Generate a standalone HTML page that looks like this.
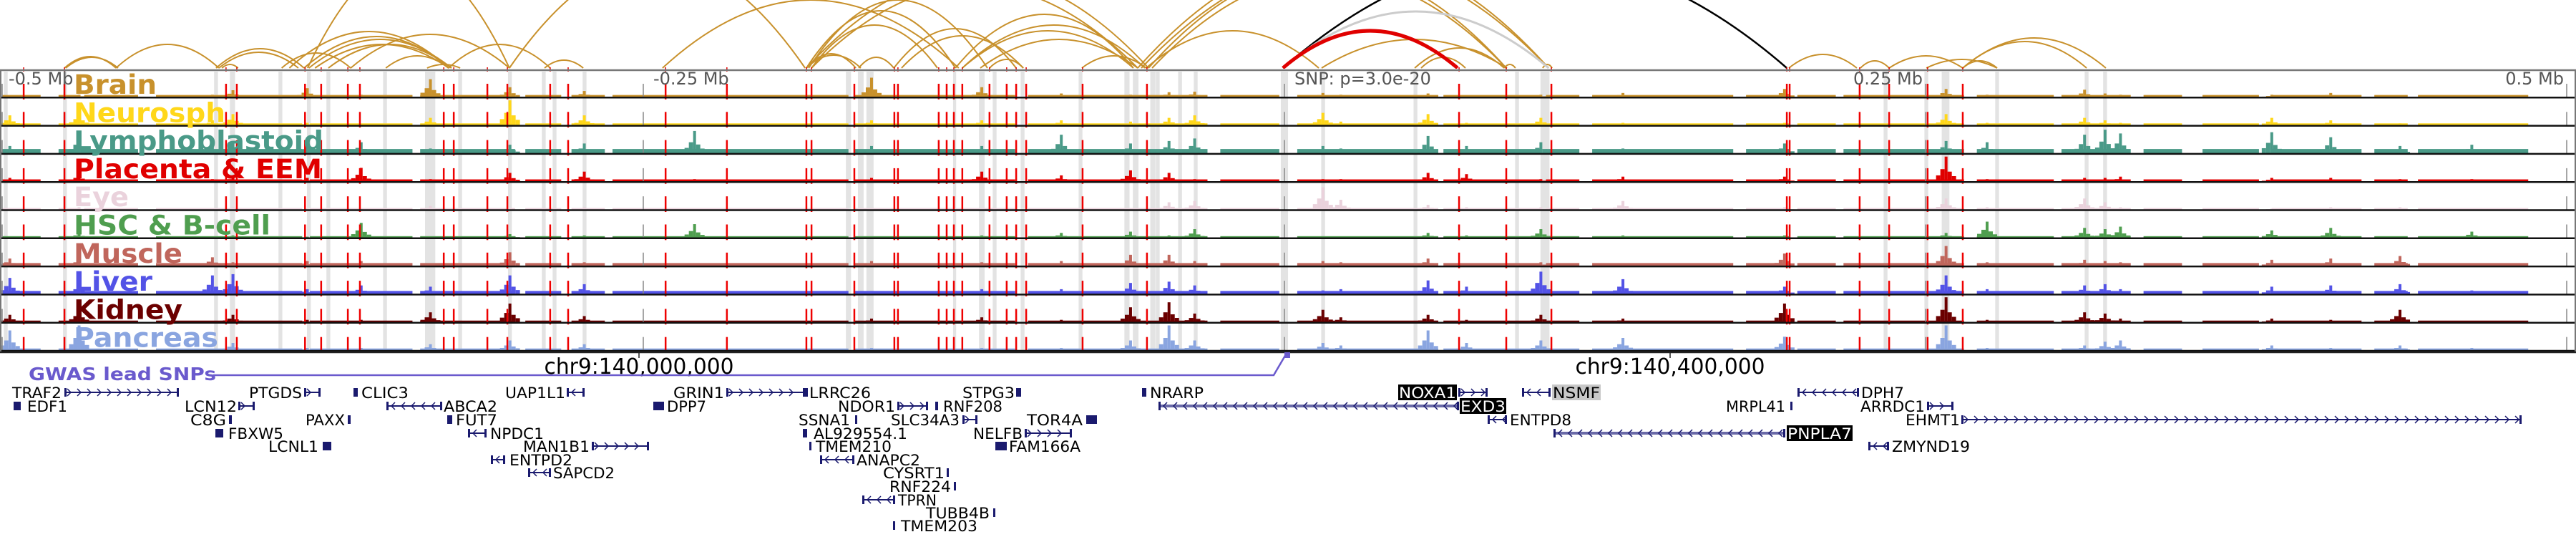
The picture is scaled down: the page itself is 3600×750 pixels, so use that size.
<!DOCTYPE html>
<html><head><meta charset="utf-8"><title>Genome browser</title>
<style>
html,body{margin:0;padding:0;background:#fff;}
svg{display:block;}
text{font-family:"DejaVu Sans","Liberation Sans",sans-serif;}
</style></head>
<body>
<svg id="chart" xmlns="http://www.w3.org/2000/svg" width="3600" height="750" viewBox="0 0 3600 750">
<defs><clipPath id="arcclip"><rect x="0" y="0" width="3600" height="96"/></clipPath></defs>
</svg>
<script>
// ---------- data ----------
const trackNames = ['Brain','Neurosph','Lymphoblastoid','Placenta & EEM','Eye','HSC & B-cell','Muscle','Liver','Kidney','Pancreas'];
const peakKb   = [-497,-470,-418,-410,-381,-360,-333,-302,-273,-230,-161,-118,-87,-60,-45,-35,15,56,22,71,100,132,195,258,274,312,320,326,385,408,435,463];
const brainH   = [.05,.1,.1,.28,.36,.1,.72,.4,.25,.05,.78,.4,.15,.1,.2,.22,.17,.15,.1,.08,.1,.17,.33,.33,.1,.3,.15,.1,.1,.17,.08,.05];
const neuroH   = [.4,.5,.2,.45,.1,.05,.3,1.0,.4,.05,.2,.2,.2,.15,.3,.4,.5,.45,.15,.1,.3,.1,.1,.45,.1,.3,.2,.1,.3,.2,.08,.05];
const lymphH   = [.3,.7,.3,.5,.35,.45,.2,.35,.4,.9,.3,.3,.75,.4,.5,.6,.3,.7,.2,.3,.45,.2,.4,.5,.45,.75,.95,.8,.85,.65,.3,.35];
const placentaH= [.15,.3,.1,.2,.15,.55,.1,.35,.4,.1,.15,.4,.25,.45,.35,.1,.1,.35,.1,.3,.1,.2,.2,1.0,.1,.15,.15,.2,.15,.15,.1,.1];
const eyeH     = [.05,.1,.05,.1,.05,.05,.15,.05,.1,.05,.05,.05,.05,.05,.3,.35,.9,.2,.4,.1,.1,.35,.1,.45,.1,.45,.3,.1,.05,.1,.1,.05];
const hscH     = [.05,.2,.05,.1,.05,.6,.05,.15,.1,.55,.05,.1,.2,.25,.1,.35,.05,.2,.05,.1,.35,.1,.1,.2,.65,.4,.35,.45,.3,.4,.05,.25];
const muscleH  = [.3,.3,.35,.15,.2,.2,.1,.55,.15,.1,.2,.15,.2,.45,.45,.2,.2,.3,.15,.1,.15,.1,.5,.8,.15,.25,.2,.15,.25,.3,.4,.1];
const liverH   = [.65,.4,.75,.8,.2,.35,.3,.75,.4,.1,.1,.2,.2,.45,.5,.35,.15,.55,.2,.3,.9,.6,.3,.75,.2,.35,.4,.2,.3,.35,.4,.15];
const kidneyH  = [.3,.5,.05,.3,.1,.1,.4,.75,.25,.05,.15,.2,.1,.6,.8,.35,.5,.3,.2,.1,.3,.15,.75,1.0,.1,.4,.35,.15,.15,.1,.5,.05];
const pancreasH= [.8,1.0,.05,.3,.1,.1,.25,.4,.25,.05,.1,.1,.1,.4,1.0,.4,.3,.8,.2,.3,.4,.5,.55,1.0,.1,.2,.35,.4,.2,.1,.2,.1];
const bgLevel  = [.09,.08,.18,.09,.07,.07,.12,.13,.07,.08];
const bgStart  = [-500,-478,-468,-440,-380,-337,-296,-278,-262,-168,-100,-25,5,62,102,120,180,200,218,270,303,335,358,385,425,442];
const bgEnd    = [-485,-470,-447,-383,-340,-300,-282,-265,-170,-105,-30,-2,60,100,115,175,197,215,265,300,330,350,380,420,438,485];
const snpKb    = [-491.6,-475.7,-412.7,-408.5,-381.9,-375.6,-365.2,-360.5,-327.8,-323.9,-310.8,-303,-286.3,-279.3,-241.3,-217.4,-186.4,-184.4,-167.7,-152.1,-150.7,-134.8,-131.7,-128.9,-125.6,-115,-108.3,-104.6,-100.7,-78.7,-53.6,68.1,86.5,104.1,195.9,197,224.3,235.8,250.8,264.5];
const bandKb   = [-498.6,-475.5,-416.6,-410.2,-391.5,-380.4,-372.8,-350.7,-333.1,-321.4,-302,-288.8,-284.6,-272.9,-170,-165.2,-161.6,-128.6,-118,-113,-102.1,-79.5,-61.4,-58,-51.3,-49.4,-40.7,-34.6,0,15.1,51.1,90.7,101.6,234.4,250.3,257.8,277.9,312.8,320];
const bandW    = [1.5,1.5,1.5,2,1.5,1.5,1.5,1.5,4,1.5,1.5,1.5,1.5,1.5,2,2.2,2.8,1.2,2.2,1.5,1.5,1.5,2,2.2,2,1.5,1.5,1.5,2.8,1.5,1.5,1.5,3.5,1.5,1.5,3,1.5,1.5,1.5];
const axisTickKb   = [-500,-250,0,250,500];
const axisTickText = ['-0.5 Mb','-0.25 Mb','SNP: p=3.0e-20','0.25 Mb','0.5 Mb'];
const arcStart = [-475.7,-475.2,-455.6,-416.6,-415.5,-414.3,-391,-388,-382.3,-380.4,-378,-372.8,-364.1,-350.4,-334.3,-325.9,-380.9,-302.2,-288.5,-242.5,-186.4,-186.4,-186.4,-185.5,-184.4,-186.4,-184.4,-166,-152.3,-149.3,-128.3,-125.6,-125.6,-118.6,-115,-79,-57.2,-55.8,-53,-51.6,-53.9,14.5,50.8,53.3,85.7,100.7,196.7,224.6,235.8,250.3,264.5,264.5,264.5];
const arcEnd   = [-455.6,-454.8,-415.5,-382.3,-384.5,-408,-364.1,-325.9,-325.9,-324.8,-325.9,-324.8,-302.2,-325.9,-321.4,-286.3,-302.2,-186.9,-273.4,-127,-167.1,-165.2,-128.3,-115.8,-135.3,-53,-57.2,-152.3,-104.6,-101.8,-58.9,-58.9,-54.4,-57.2,-101.8,-53.9,103,103,86.5,86.5,13.4,86.8,85.7,70.6,90.1,104.4,223.2,235.8,264.5,277.9,320.3,312.8,277.9];
const arcH     = [16,15,33,27,22,5,21,51,44,40,33,33,47,17,5,33,150,150,11,95,20,18,80,95,60,130,115,15,55,45,75,52,60,40,12,17,160,150,140,130,52,40,28,15,5,5,19,10,17,12,42,37,10];
const hiArcStart = [-0.6,-0.6,-0.6];
const hiArcEnd   = [195.9,103,67.5];
const hiArcH     = [153,79,52];
const hiArcColor = ['#000000','#cccccc','#e00000'];

// ---------- style / layout ----------
const trackColors = ['#c8912c','#ffd71a','#4a9a88','#e00000','#ead2dc','#4f9e4f','#c0665c','#5353e6','#6b0000','#8aa5e0'];
const labelWidths = [116,212,349,347,77,275,152,110,152,202];
const peakSets = [brainH,neuroH,lymphH,placentaH,eyeH,hscH,muscleH,liverH,kidneyH,pancreasH];
const TOP0 = 98, TH = 39.3, INNER = 35, BASE = 95;
const svg = document.getElementById('chart');
const NS = 'http://www.w3.org/2000/svg';
const xs = kb => 1795 + kb * 3.584;
function mk(tag, attrs, parent) {
  const e = document.createElementNS(NS, tag);
  for (const k in attrs) e.setAttribute(k, attrs[k]);
  (parent || svg).appendChild(e);
  return e;
}

// ---------- arcs ----------
const arcG = mk('g', {'clip-path': 'url(#arcclip)'});


for (let i = 0; i < arcStart.length; i++) {
  const a = xs(arcStart[i]), b = xs(arcEnd[i]), m = (a + b) / 2;
  const p = mk('path', {d: `M${a},${BASE} Q${m},${BASE - 2 * arcH[i]} ${b},${BASE}`, fill: 'none', stroke: '#c8912c', 'stroke-width': 2}, arcG);
  
  
}
for (let i = 0; i < hiArcStart.length; i++) {
  const a = xs(hiArcStart[i]), b = xs(hiArcEnd[i]), m = (a + b) / 2;
  const p = mk('path', {d: `M${a},${BASE} Q${m},${BASE - 2 * hiArcH[i]} ${b},${BASE}`, fill: 'none', stroke: hiArcColor[i], 'stroke-width': i === 2 ? 5 : (i === 1 ? 3 : 2.5)}, arcG);
  
  
}
for (let i = 0; i < snpKb.length; i++) {
  const t = mk('line', {x1: xs(snpKb[i]), x2: xs(snpKb[i]), y1: 94, y2: 100, stroke: '#e00000', 'stroke-width': 1.5});
  
  
}

// ---------- gray bands ----------
const bandG = mk('g', {});


for (let i = 0; i < bandKb.length; i++) {
  const w = bandW[i] * 3.584;
  const r = mk('rect', {x: xs(bandKb[i]) - w / 2, y: TOP0 + 2, width: w, height: TH * 10 - 2, fill: '#e3e3e3'}, bandG);
  
  
}

// ---------- tracks ----------
for (let t = 0; t < 10; t++) {
  const top = TOP0 + t * TH, bot = top + TH - 1.5;
  const g = mk('g', {});
  
  
  const col = trackColors[t];
  for (let s = 0; s < bgStart.length; s++) {
    const a = xs(bgStart[s]), b = xs(bgEnd[s]);
    const r = mk('rect', {x: a, y: bot - bgLevel[t] * INNER, width: b - a, height: bgLevel[t] * INNER, fill: col}, g);
    
    
  }
  const hs = peakSets[t];
  for (let i = 0; i < peakKb.length; i++) {
    const x = xs(peakKb[i]), h = Math.min(1, hs[i]) * INNER;
    const r = mk('rect', {x: x - 2, y: bot - h, width: 4, height: h, fill: col}, g);
    
    
    const l = mk('rect', {x: x - 8, y: bot - h * 0.5, width: 6, height: h * 0.5, fill: col}, g);
    
    
    const rr = mk('rect', {x: x + 2, y: bot - h * 0.4, width: 6, height: h * 0.4, fill: col}, g);
    
    
    const l2 = mk('rect', {x: x - 14, y: bot - h * 0.25, width: 6, height: h * 0.25, fill: col}, g);
    
    
    const r2 = mk('rect', {x: x + 8, y: bot - h * 0.22, width: 6, height: h * 0.22, fill: col}, g);
    
    
  }
  for (let i = 0; i < axisTickKb.length; i++) {
    const ln = mk('line', {x1: xs(axisTickKb[i]), x2: xs(axisTickKb[i]), y1: top + 19, y2: bot + 1, stroke: '#888', 'stroke-width': 1.5}, g);
    
    
  }
  for (let i = 0; i < snpKb.length; i++) {
    const ln = mk('line', {x1: xs(snpKb[i]), x2: xs(snpKb[i]), y1: top + 19, y2: bot + 3, stroke: '#ee0000', 'stroke-width': 2.5}, g);
    
    
  }
  const bl = mk('line', {x1: 0, x2: 3600, y1: bot + 0.5, y2: bot + 0.5, stroke: '#111', 'stroke-width': 2.5}, g);
  
  
  const lab = mk('text', {x: 103, y: top + 33, fill: col, 'font-size': 37, 'font-weight': 'bold', textLength: labelWidths[t], lengthAdjust: 'spacingAndGlyphs'}, g);
  lab.textContent = trackNames[t];
  
  
}
const topLine = mk('line', {x1: 0, x2: 3600, y1: TOP0, y2: TOP0, stroke: '#777', 'stroke-width': 2.5});


const leftB = mk('line', {x1: 1, x2: 1, y1: TOP0, y2: TOP0 + TH * 10, stroke: '#777', 'stroke-width': 2});


const rightB = mk('line', {x1: 3599, x2: 3599, y1: TOP0, y2: TOP0 + TH * 10, stroke: '#777', 'stroke-width': 2});



// axis tick labels
for (let i = 0; i < axisTickKb.length; i++) {
  const x = xs(axisTickKb[i]);
  const anchor = axisTickKb[i] > 0 ? 'end' : 'start';
  const tx = mk('text', {x: axisTickKb[i] > 0 ? x - 4 : x + (i === 0 ? 9 : 14), y: 118, fill: '#555', 'font-size': 24, 'text-anchor': anchor});
  tx.textContent = axisTickText[i];
  
  
}

// ---------- coordinate ruler + GWAS ----------
const rule = mk('line', {x1: 0, x2: 3600, y1: 492, y2: 492, stroke: '#222', 'stroke-width': 2.5});


const coordText = ['chr9:140,000,000', 'chr9:140,400,000'];
const coordX = [893, 2334];
for (let i = 0; i < 2; i++) {
  const tk = mk('line', {x1: coordX[i], x2: coordX[i], y1: 492, y2: 500, stroke: '#222', 'stroke-width': 1.5});
  
  
  const ct = mk('text', {x: coordX[i], y: 522, 'font-size': 30, 'text-anchor': 'middle', fill: '#000', textLength: 265, lengthAdjust: 'spacingAndGlyphs'});
  ct.textContent = coordText[i];
  
  
}
const gwasLine = mk('path', {d: 'M298,524 L1780,524 L1797,495', fill: 'none', stroke: '#6a5acd', 'stroke-width': 2.5});


const gwasMark = mk('rect', {x: 1795, y: 492, width: 8, height: 8, fill: '#6a5acd'});


const gwasT = mk('text', {x: 40, y: 531, 'font-size': 25, 'font-weight': 'bold', fill: '#6a5acd', textLength: 262, lengthAdjust: 'spacingAndGlyphs'});
gwasT.textContent = 'GWAS lead SNPs';



// ---------- genes ----------
const rowY = [548, 567, 586, 605, 623, 642, 660, 679, 698, 716, 734];
const genes = [
 ['TRAF2',0,17,86,90,250,1,''],['PTGDS',0,348,422,425,448,1,''],['CLIC3',0,505,571,494,500,0,''],
 ['UAP1L1',0,706,790,792,817,0,''],['GRIN1',0,941,1012,1015,1125,1,''],['LRRC26',0,1131,1217,1125,1129,0,''],
 ['STPG3',0,1345,1418,1420,1427,0,''],['NRARP',0,1607,1682,1596,1602,0,''],
 ['EDF1',1,38,94,19,29,-1,''],['LCN12',1,258,331,333,356,1,''],['ABCA2',1,620,695,540,618,-1,''],
 ['DPP7',1,932,987,913,928,0,''],['NDOR1',1,1171,1251,1254,1297,1,''],['RNF208',1,1318,1401,1307,1311,0,''],
 ['EXD3',1,2041,2104,1619,2039,-1,'black'],
 ['C8G',2,266,316,320,324,0,''],['PAXX',2,427,482,486,490,0,''],['FUT7',2,637,695,625,632,0,''],
 ['SSNA1',2,1116,1188,1195,1198,0,''],['SLC34A3',2,1245,1341,1345,1366,1,''],['TOR4A',2,1435,1513,1518,1533,0,''],
 ['FBXW5',3,319,396,301,312,0,''],['NPDC1',3,685,760,654,680,-1,''],['AL929554.1',3,1137,1268,1122,1128,-1,''],
 ['NELFB',3,1360,1429,1432,1498,1,''],
 ['LCNL1',4,375,445,451,463,0,''],['MAN1B1',4,731,824,827,907,1,''],['TMEM210',4,1140,1246,1131,1134,0,''],
 ['FAM166A',4,1410,1510,1391,1407,-1,''],
 ['ENTPD2',5,712,800,686,706,-1,''],['ANAPC2',5,1197,1286,1146,1194,-1,''],
 ['SAPCD2',6,773,859,738,770,-1,''],['CYSRT1',6,1234,1320,1323,1326,0,''],
 ['RNF224',7,1243,1329,1333,1336,0,''],['TPRN',8,1255,1309,1205,1251,-1,''],
 ['TUBB4B',9,1294,1383,1388,1391,0,''],['TMEM203',10,1259,1366,1248,1251,0,''],
 ['NOXA1',0,1955,2035,2038,2079,1,'black'],['NSMF',0,2170,2236,2127,2167,-1,'gray'],
 ['DPH7',0,2601,2661,2512,2598,-1,''],['MRPL41',1,2412,2495,2502,2505,0,''],
 ['ARRDC1',1,2600,2690,2693,2730,1,''],['ENTPD8',2,2110,2196,2079,2106,-1,''],
 ['EHMT1',2,2663,2739,2741,3524,1,''],['PNPLA7',3,2498,2588,2171,2495,-1,'black'],
 ['ZMYND19',4,2644,2753,2611,2640,-1,'']
];
const geneG = mk('g', {});


for (const gd of genes) {
  const [name, row, t0, t1, l0, l1, dir, box] = gd;
  const y = rowY[row];
  const g = mk('g', {}, geneG);
  
  
  if (l1 - l0 <= 16) {
    const m = mk('rect', {x: l0, y: y - 6, width: Math.max(3, l1 - l0), height: 12, fill: '#1a1a6e'}, g);
    
    
  } else {
    const thick = (name === 'EXD3' || name === 'PNPLA7');
    const ln = mk('line', {x1: l0, x2: l1, y1: y, y2: y, stroke: thick ? '#6a6aa8' : '#1a1a6e', 'stroke-width': thick ? 4 : 2}, g);
    
    
    let d = '';
    for (let x = l0 + 8; x < l1 - 4; x += 14) {
      d += dir > 0 ? `M${x - 4},${y - 5} L${x + 1},${y} L${x - 4},${y + 5} ` : `M${x + 4},${y - 5} L${x - 1},${y} L${x + 4},${y + 5} `;
    }
    const ch = mk('path', {d: d, fill: 'none', stroke: '#1a1a6e', 'stroke-width': 1.5}, g);
    
    
    const e1 = mk('rect', {x: l0, y: y - 6, width: 3, height: 12, fill: '#1a1a6e'}, g);
    
    
    const e2 = mk('rect', {x: l1 - 3, y: y - 6, width: 3, height: 12, fill: '#1a1a6e'}, g);
    
    
  }
  if (box) {
    const bx = mk('rect', {x: t0 - 1, y: y - 11, width: t1 - t0 + 2, height: 22, fill: box === 'black' ? '#000' : '#c8c8c8'}, g);
    
    
  }
  const tx = mk('text', {x: t0, y: y + 8, 'font-size': 21, fill: box === 'black' ? '#fff' : '#000', textLength: t1 - t0, lengthAdjust: 'spacingAndGlyphs'}, g);
  tx.textContent = name;
  
  
}
</script>
</body></html>
